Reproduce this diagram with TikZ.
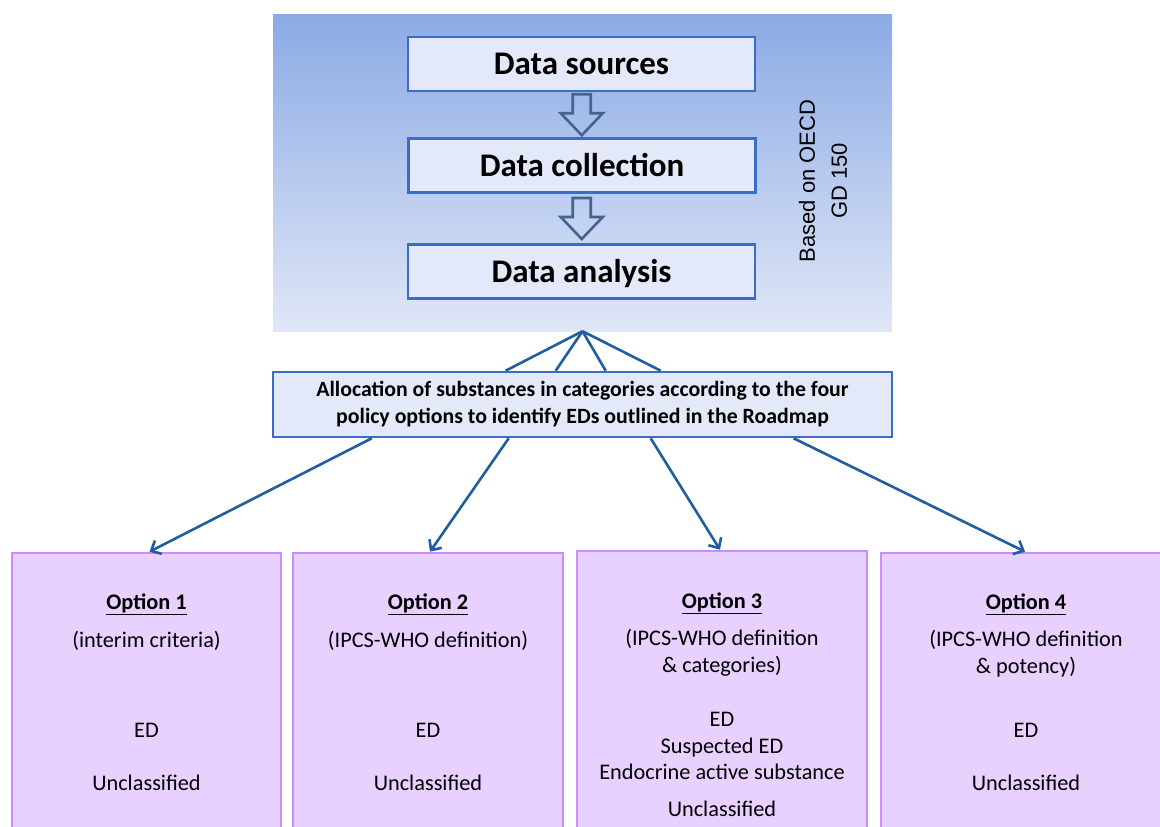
\documentclass[tikz,border=0pt]{standalone}
\usepackage{fontspec}
\setmainfont{Carlito}
\newfontfamily\arialf{Liberation Sans}
\usetikzlibrary{arrows.meta,calc}
\definecolor{bgtop}{RGB}{139,170,228}
\definecolor{bgbot}{RGB}{224,231,247}
\definecolor{boxfill}{RGB}{227,233,248}
\definecolor{boxline}{RGB}{59,108,200}
\definecolor{hollowc}{RGB}{66,100,142}
\definecolor{connc}{RGB}{32,94,158}
\definecolor{optfill}{RGB}{232,208,255}
\definecolor{optline}{RGB}{198,142,255}
\newcommand\hollowarrow[1]{\draw[hollowarr] ($(#1)+(-9,-20.5)$) -- ++(18,0) -- ++(0,19) -- ++(12,0) -- ++(-21,22) -- ++(-21,-22) -- ++(12,0) -- cycle;}
\begin{document}
\begin{tikzpicture}[x=1pt,y=-1pt,
  databox/.style={draw=boxline, fill=boxfill, line width=2.6pt, minimum width=347pt, minimum height=54pt, inner sep=0pt, text height=28pt, text depth=7pt, font=\fontsize{33}{38}\selectfont\bfseries},
  allocbox/.style={draw=boxline, fill=boxfill, line width=2.6pt, minimum width=619pt, minimum height=65pt, inner sep=0pt, align=center, font=\fontsize{21.8}{27}\selectfont\bfseries},
  hollowarr/.style={draw=hollowc, line width=2.6pt, line join=miter},
  plainconn/.style={draw=connc, line width=2.6pt},
  arrconn/.style={draw=connc, line width=2.6pt, -{Straight Barb[length=8pt,width=15pt]}},
  optbox/.style={draw=optline, fill=optfill, line width=2.6pt, inner sep=0pt},
  opttext/.style={anchor=base, inner sep=0pt, font=\fontsize{22.3}{26}\selectfont},
  opttitle/.style={opttext, font=\fontsize{22.3}{26}\selectfont\bfseries}
]
\useasboundingbox (0,0) rectangle (1160,827);
\fill[white] (0,0) rectangle (1160,827);
% background gradient
\node[minimum width=619pt, minimum height=317pt, inner sep=0pt, top color=bgtop, bottom color=bgbot, draw=none] (bg) at (582.5,172.5) {};
% data boxes
\node[databox] (src) at (581.5,64) {Data sources};
\node[databox] (col) at (582,165.5) {Data collection};
\node[databox] (ana) at (581.5,271.5) {Data analysis};
\coordinate (a1) at ($(src.south)!0.5!(col.north)$);
\coordinate (a2) at ($(col.south)!0.5!(ana.north)$);
\hollowarrow{a1}
\hollowarrow{a2}
\node[rotate=90, align=center, inner sep=0pt, font=\arialf\fontsize{22}{32}\selectfont] (oecd) at (823,181) {Based on OECD\\GD 150};
% allocation box
\node[allocbox] (alloc) at (582.5,404.5) {Allocation of substances in categories according to the four\\policy options to identify EDs outlined in the Roadmap};
\draw[plainconn] (bg.south) -- ($(alloc.north west)+(234,0)$);
\draw[plainconn] (bg.south) -- ($(alloc.north west)+(284,0)$);
\draw[plainconn] (bg.south) -- ($(alloc.north west)+(334,0)$);
\draw[plainconn] (bg.south) -- ($(alloc.north west)+(389,0)$);
% option boxes
\node[optbox, minimum width=269pt, minimum height=281pt] (o1) at (146.5,693.5) {};
\node[optbox, minimum width=270pt, minimum height=281pt] (o2) at (428,693.5) {};
\node[optbox, minimum width=290pt, minimum height=283pt] (o3) at (722,692.5) {};
\node[optbox, minimum width=290pt, minimum height=281pt] (o4) at (1026,693.5) {};
\draw[arrconn] ($(alloc.south west)+(100,0)$) -- ($(o1.north)+(3,0)$);
\draw[arrconn] ($(alloc.south west)+(237,0)$) -- ($(o2.north)+(2,0)$);
\draw[arrconn] ($(alloc.south west)+(379,0)$) -- ($(o3.north)+(-2,0)$);
\draw[arrconn] ($(alloc.south west)+(522,0)$) -- ($(o4.north)+(-1,0)$);
% option 1
\node[opttitle] (t1) at ($(o1.north)+(0,58)$) {\underline{Option 1}};
\node[opttext] (s1) at ($(o1.north)+(0,96)$) {(interim criteria)};
\node[opttext] (e1) at ($(o1.north)+(0,186)$) {ED};
\node[opttext] (u1) at ($(o1.north)+(0,239)$) {Unclassified};
% option 2
\node[opttitle] (t2) at ($(o2.north)+(0,58)$) {\underline{Option 2}};
\node[opttext] (s2) at ($(o2.north)+(0,96)$) {(IPCS-WHO definition)};
\node[opttext] (e2) at ($(o2.north)+(0,186)$) {ED};
\node[opttext] (u2) at ($(o2.north)+(0,239)$) {Unclassified};
% option 3
\node[opttitle] (t3) at ($(o3.north)+(0,59)$) {\underline{Option 3}};
\node[opttext] (s3) at ($(o3.north)+(0,96)$) {(IPCS-WHO definition};
\node[opttext] (s3b) at ($(o3.north)+(0,123)$) {\& categories)};
\node[opttext] (e3) at ($(o3.north)+(0,177)$) {ED};
\node[opttext] (e3b) at ($(o3.north)+(0,204)$) {Suspected ED};
\node[opttext] (e3c) at ($(o3.north)+(0,230)$) {Endocrine active substance};
\node[opttext] (u3) at ($(o3.north)+(0,267)$) {Unclassified};
% option 4
\node[opttitle] (t4) at ($(o4.north)+(0,58)$) {\underline{Option 4}};
\node[opttext] (s4) at ($(o4.north)+(0,95)$) {(IPCS-WHO definition};
\node[opttext] (s4b) at ($(o4.north)+(0,122)$) {\& potency)};
\node[opttext] (e4) at ($(o4.north)+(0,186)$) {ED};
\node[opttext] (u4) at ($(o4.north)+(0,239)$) {Unclassified};
\end{tikzpicture}
\end{document}
